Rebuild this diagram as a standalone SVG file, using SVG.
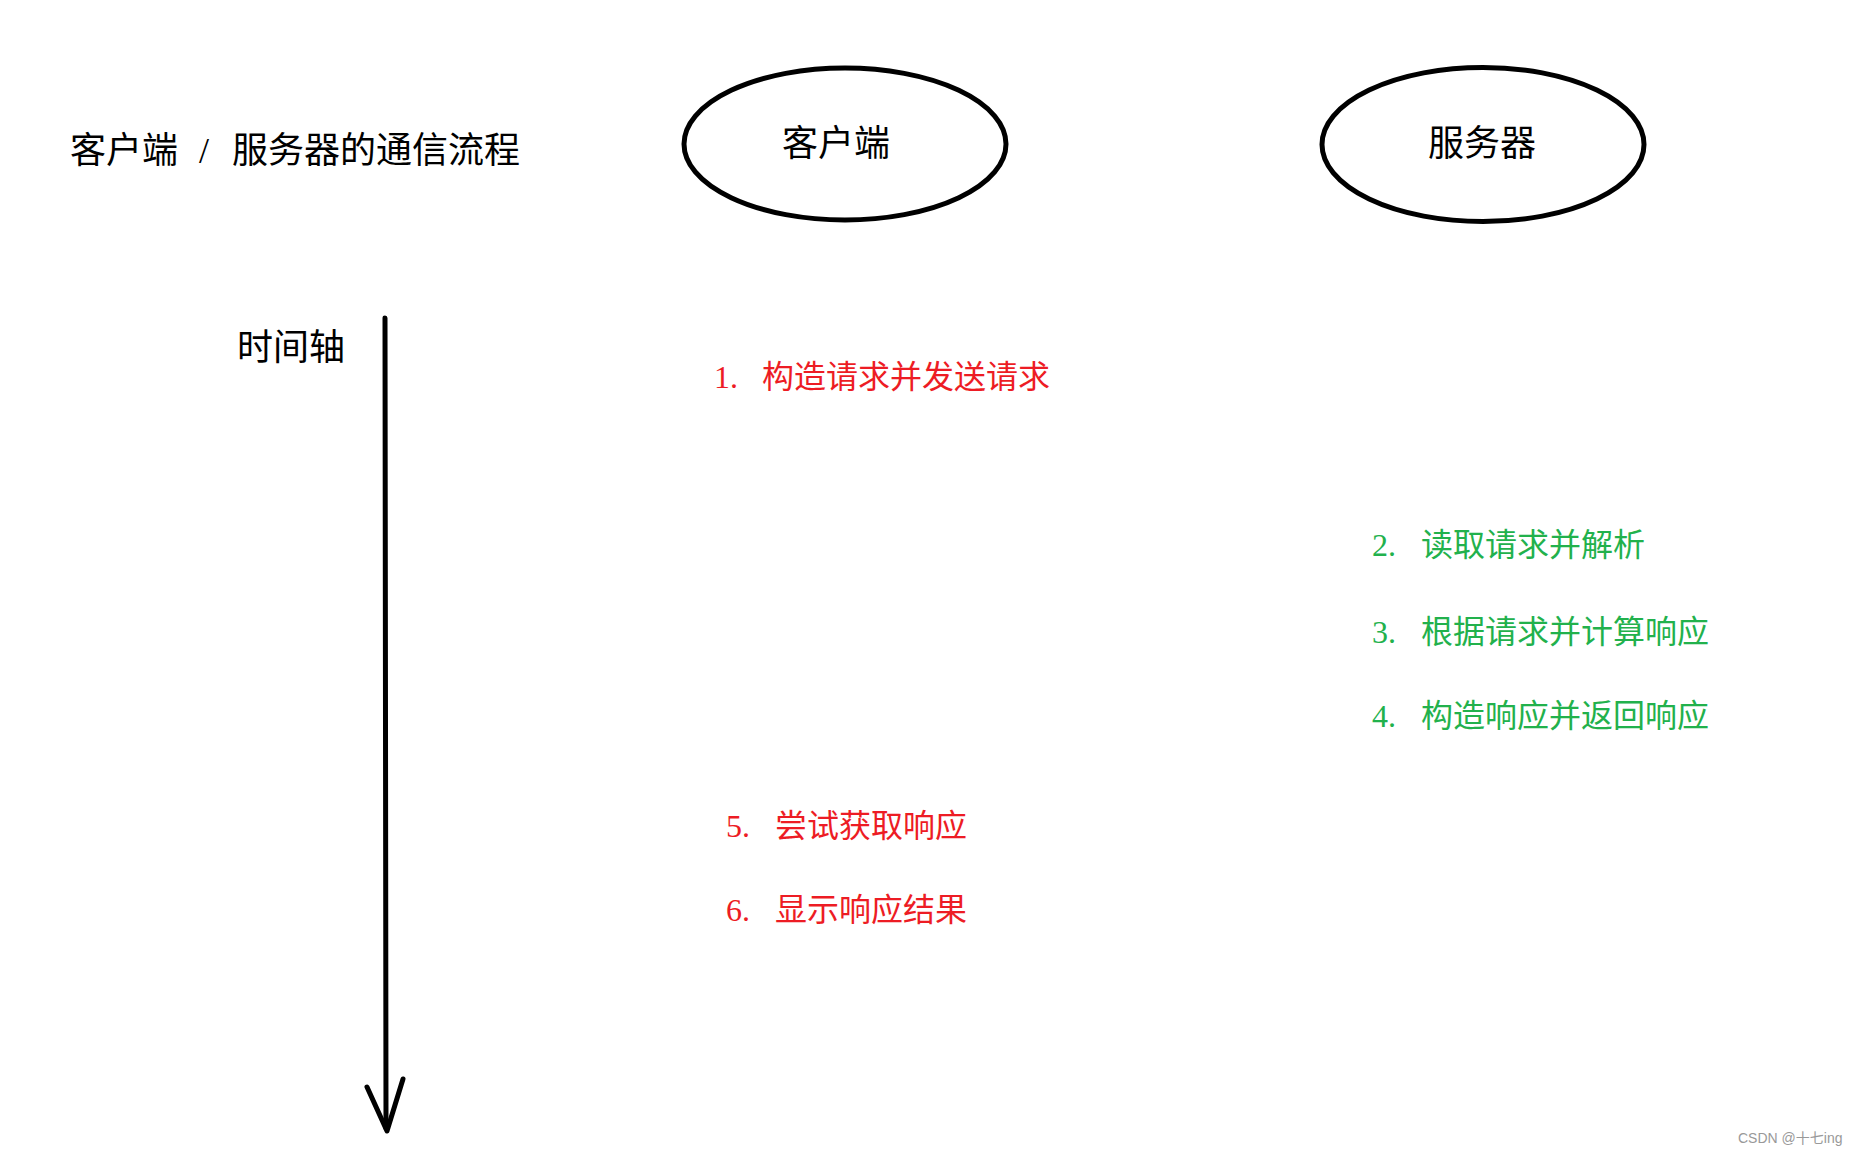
<svg xmlns="http://www.w3.org/2000/svg" width="1857" height="1156" viewBox="0 0 1857 1156">
<style>
.t{font-family:"Liberation Serif","Noto Sans CJK SC",serif;}
.big{font-size:36px;fill:#000;}
.lbl{font-size:32px;}
.red{fill:#ED1C24;}
.green{fill:#22B14C;}
.node{fill:none;stroke:#000;stroke-width:5;}
.axis{fill:none;stroke:#000;stroke-width:5;stroke-linecap:round;stroke-linejoin:round;}
</style>
<rect width="1857" height="1156" fill="#fff"/>
<g id="title"><text class="t big" y="163"><tspan x="70">客户端</tspan><tspan x="199">/</tspan><tspan x="232">服务器的通信流程</tspan></text></g>
<g id="client"><ellipse class="node" cx="845" cy="144" rx="161" ry="76"/><text class="t big" x="836" y="156" text-anchor="middle">客户端</text></g>
<g id="server"><ellipse class="node" cx="1483" cy="144.5" rx="161" ry="77"/><text class="t big" x="1482" y="156" text-anchor="middle">服务器</text></g>
<g id="timeline-label"><text class="t big" x="291" y="360" text-anchor="middle">时间轴</text></g>
<g id="connectors">
<path class="axis" d="M385,318 L386,1128"/>
<path class="axis" d="M367,1087 L387,1131 L403,1079"/>
</g>
<g id="step1"><text class="t lbl red" y="388"><tspan x="714">1.</tspan><tspan x="762">构造请求并发送请求</tspan></text></g>
<g id="step2"><text class="t lbl green" y="556"><tspan x="1372">2.</tspan><tspan x="1421">读取请求并解析</tspan></text></g>
<g id="step3"><text class="t lbl green" y="643"><tspan x="1372">3.</tspan><tspan x="1421">根据请求并计算响应</tspan></text></g>
<g id="step4"><text class="t lbl green" y="727"><tspan x="1372">4.</tspan><tspan x="1421">构造响应并返回响应</tspan></text></g>
<g id="step5"><text class="t lbl red" y="837"><tspan x="726">5.</tspan><tspan x="775">尝试获取响应</tspan></text></g>
<g id="step6"><text class="t lbl red" y="921"><tspan x="726">6.</tspan><tspan x="775">显示响应结果</tspan></text></g>
<g id="watermark"><text x="1738" y="1143" font-family="'Liberation Sans','Noto Sans CJK SC',sans-serif" font-size="14" fill="#999">CSDN @十七ing</text></g>
</svg>
